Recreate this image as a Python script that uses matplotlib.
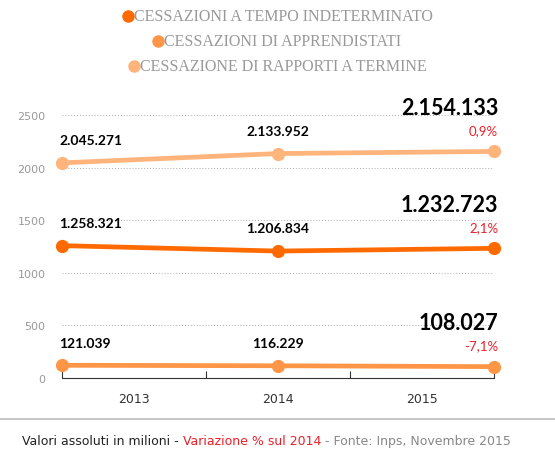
import matplotlib.pyplot as plt
from matplotlib.lines import Line2D

anni = ["2013", "2014", "2015"]
indeterminato = [1258.321, 1206.834, 1232.723]
apprendistati = [121.039, 116.229, 108.027]
termine = [2045.271, 2133.952, 2154.133]
lab_ind = ["1.258.321", "1.206.834", "1.232.723"]
lab_app = ["121.039", "116.229", "108.027"]
lab_ter = ["2.045.271", "2.133.952", "2.154.133"]
var_ind, var_app, var_ter = "2,1%", "-7,1%", "0,9%"

serie = [
    ("CESSAZIONI A TEMPO INDETERMINATO", indeterminato, lab_ind, var_ind, "#ff6a00"),
    ("CESSAZIONI DI APPRENDISTATI", apprendistati, lab_app, var_app, "#ff9546"),
    ("CESSAZIONE DI RAPPORTI A TERMINE", termine, lab_ter, var_ter, "#ffb47c"),
]

fig = plt.figure(figsize=(5.55, 4.6), dpi=100)
ax = fig.add_axes([62 / 555, 1 - 379 / 460, 432 / 555, 284 / 460])
x = list(range(len(anni)))

for nome, vals, labs, var, col in serie:
    ax.plot(x, vals, color=col, lw=3.4, marker="o", ms=8.5, solid_capstyle="round",
            zorder=3, clip_on=False)
    ax.annotate(labs[0], (x[0], vals[0]), xytext=(-2, 12), textcoords="offset points",
                ha="left", va="bottom", fontsize=10, fontweight="bold", family="Lato")
    ax.annotate(labs[1], (x[1], vals[1]), xytext=(0, 12), textcoords="offset points",
                ha="center", va="bottom", fontsize=10, fontweight="bold", family="Lato")
    ax.annotate(labs[2], (x[2], vals[2]), xytext=(3, 24), textcoords="offset points",
                ha="right", va="bottom", fontsize=15.5, fontweight="bold", family="Lato")
    ax.annotate(var, (x[2], vals[2]), xytext=(3, 11), textcoords="offset points",
                ha="right", va="bottom", fontsize=9.5, color="#e8202a", family="Lato")

ax.set_xlim(0, 2)
ax.set_ylim(0, 2700)
ax.set_yticks([0, 500, 1000, 1500, 2000, 2500])
ax.tick_params(axis="y", length=0, labelsize=8, colors="#999999", pad=12)
ax.grid(axis="y", linestyle=(0, (1, 2)), color="#aaaaaa", lw=0.7)
ax.set_xticks([0, 2 / 3, 4 / 3, 2])
ax.set_xticklabels([])
ax.set_xticks([1 / 3, 1, 5 / 3], minor=True)
ax.set_xticklabels(anni, minor=True)
ax.tick_params(axis="x", which="major", length=5, direction="in", color="#333333")
ax.tick_params(axis="x", which="minor", length=0, labelsize=9, pad=10, labelcolor="#333333")
for s in ["top", "right", "left"]:
    ax.spines[s].set_visible(False)
ax.spines["bottom"].set_color("#333333")

# legenda in alto
fig.canvas.draw()
r = fig.canvas.get_renderer()
for i, (nome, vals, labs, var, col) in enumerate(serie):
    yy = 1 - (17 + 25 * i) / 460
    t = fig.text(0.5 + 0.01, yy, nome, ha="center", va="center", fontsize=11.5,
                 color="#999999", family="Liberation Serif")
    bb = t.get_window_extent(r)
    fig.add_artist(Line2D([(bb.x0 - 6) / 555], [yy], marker="o", ms=8,
                          color=col, transform=fig.transFigure))

fig.add_artist(Line2D([0, 1], [1 - 420 / 460] * 2, color="#bbbbbb", lw=1.2,
                      transform=fig.transFigure))
yf = 1 - 442 / 460
t1 = fig.text(0.04, yf, "Valori assoluti in milioni - ", fontsize=9, color="#222222", va="center")
bb = t1.get_window_extent(r)
t2 = fig.text(bb.x1 / 555, yf, "Variazione % sul 2014", fontsize=9, color="#e8202a", va="center")
bb = t2.get_window_extent(r)
fig.text(bb.x1 / 555, yf, " - Fonte: Inps, Novembre 2015", fontsize=9, color="#888888", va="center")

fig.savefig("out.png", dpi=100)
